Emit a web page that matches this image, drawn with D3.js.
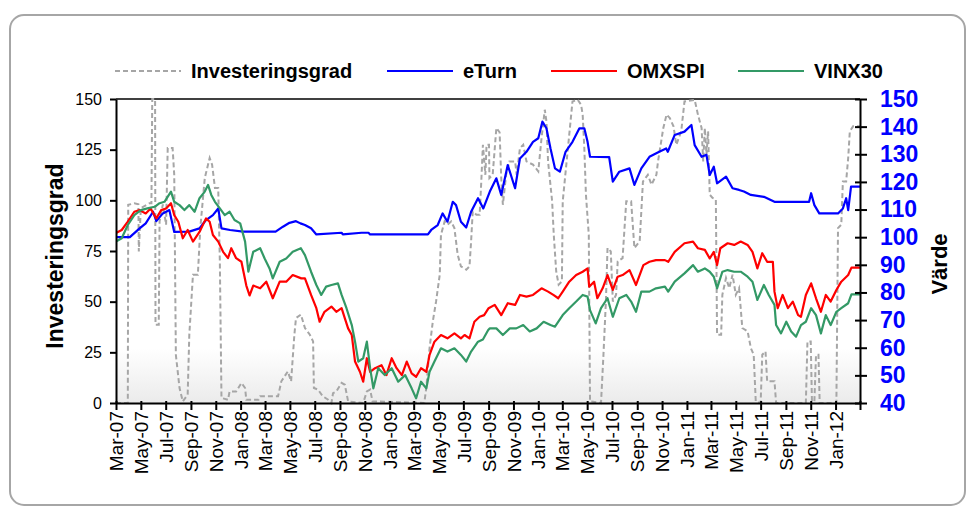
<!DOCTYPE html>
<html>
<head>
<meta charset="utf-8">
<script src="https://cdn.jsdelivr.net/npm/d3@7"></script>
<style>
  body { margin: 0; background: #fff; }
  svg { display: block; font-family: Arial, "Liberation Sans", sans-serif; }
</style>
</head>
<body>
<svg id="chart" width="971" height="518"></svg>
<script>
// x axis: first and last date, and the two-monthly tick labels
const xDomain = ['2007-03-01', '2012-03-01'];
const xTickLabels = ['Mar-07','May-07','Jul-07','Sep-07','Nov-07','Jan-08','Mar-08','May-08','Jul-08','Sep-08',
  'Nov-08','Jan-09','Mar-09','May-09','Jul-09','Sep-09','Nov-09','Jan-10','Mar-10','May-10','Jul-10','Sep-10',
  'Nov-10','Jan-11','Mar-11','May-11','Jul-11','Sep-11','Nov-11','Jan-12'];

const leftTicks = [0, 25, 50, 75, 100, 125, 150];
const rightTicks = [40, 50, 60, 70, 80, 90, 100, 110, 120, 130, 140, 150];

// Investeringsgrad (left axis, %)
const investeringsgrad = [
  ['2007-03-01',0],['2007-03-30',0],['2007-03-31',97.8],['2007-04-15',98.5],['2007-04-25',98],['2007-04-26',74.8],
  ['2007-05-01',96.2],['2007-05-22',98.5],['2007-05-27',98.5],['2007-05-29',150],['2007-06-05',150],['2007-06-06',38.6],
  ['2007-06-14',38.6],['2007-06-16',89.6],['2007-06-24',98],['2007-07-02',88],['2007-07-06',125.8],['2007-07-18',125.8],
  ['2007-07-22',112.6],['2007-07-26',23.8],['2007-08-04',7.4],['2007-08-12',0.8],['2007-08-24',4.1],['2007-08-28',33.7],
  ['2007-09-06',63.3],['2007-09-18',63.3],['2007-09-24',86.3],['2007-10-05',111],['2007-10-17',120.9],['2007-10-23',117.6],
  ['2007-10-30',106.1],['2007-11-07',106.1],['2007-11-11',69.9],['2007-11-15',2.5],['2007-12-01',1.6],['2007-12-05',5.7],
  ['2007-12-21',5.7],['2008-01-03',9.9],['2008-01-12',7.4],['2008-01-15',1.6],['2008-02-14',1.6],['2008-02-18',3.3],
  ['2008-04-02',3.3],['2008-04-10',10.7],['2008-04-26',15.6],['2008-05-04',10.7],['2008-05-12',33.7],['2008-05-16',41.9],
  ['2008-05-28',43.6],['2008-06-07',37],['2008-06-19',33.7],['2008-06-27',30.4],['2008-06-29',7.4],['2008-07-09',6.6],
  ['2008-07-21',3.3],['2008-08-03',1.6],['2008-08-11',0],['2008-08-15',4.9],['2008-08-23',5.7],['2008-09-05',9.9],
  ['2008-09-13',9],['2008-09-21',0.8],['2008-10-28',0],['2008-11-06',5.7],['2008-11-14',6.6],['2008-11-20',0.8],
  ['2009-03-27',0],['2009-04-01',7.4],['2009-04-09',27.1],['2009-04-17',40.3],['2009-04-25',50.1],['2009-05-04',63.3],
  ['2009-05-07',83],['2009-05-16',89.6],['2009-05-23',88],['2009-06-01',89.6],['2009-06-09',86.3],['2009-06-17',73.2],
  ['2009-06-25',67.4],['2009-07-08',65.8],['2009-07-16',67.4],['2009-07-20',79.7],['2009-07-24',94.5],['2009-08-02',92.9],
  ['2009-08-10',92.9],['2009-08-14',109.3],['2009-08-18',127.4],['2009-08-24',112.6],['2009-08-27',127.4],['2009-09-02',127.4],
  ['2009-09-03',111],['2009-09-11',112.6],['2009-09-20',135.7],['2009-09-28',133.6],['2009-10-02',111],['2009-10-06',97.8],
  ['2009-10-14',112.6],['2009-10-22',119.2],['2009-11-05',119.2],['2009-11-09',112.6],['2009-11-17',125.8],['2009-11-25',127.4],
  ['2009-12-03',119.2],['2009-12-19',117.6],['2010-01-01',114.3],['2010-01-09',130.8],['2010-01-17',144.7],['2010-01-21',138.9],
  ['2010-01-25',119.2],['2010-02-04',99.5],['2010-02-08',83],['2010-02-14',64.9],['2010-02-20',58.4],['2010-02-28',60],
  ['2010-03-02',99.5],['2010-03-10',115.9],['2010-03-18',132.4],['2010-03-26',148.8],['2010-04-08',149.6],['2010-04-16',147.2],
  ['2010-04-20',142.3],['2010-04-24',125.8],['2010-04-28',102.8],['2010-05-05',83],['2010-05-08',0.8],['2010-06-04',0],
  ['2010-06-10',23.8],['2010-06-16',50.1],['2010-06-20',76.5],['2010-06-28',74.8],['2010-07-03',50.1],['2010-07-11',53.4],
  ['2010-07-15',69.9],['2010-07-27',71.5],['2010-08-05',99.5],['2010-08-17',99.5],['2010-08-25',76.5],['2010-09-07',79.8],
  ['2010-09-15',109.3],['2010-09-27',112.6],['2010-10-06',107.7],['2010-10-18',112.6],['2010-10-22',119.2],['2010-11-04',135.7],
  ['2010-11-12',142.3],['2010-11-20',140.6],['2010-11-29',136.5],['2010-12-06',127.4],['2010-12-18',134.1],['2010-12-26',148.8],
  ['2011-01-20',149.6],['2011-01-28',142.3],['2011-02-06',135.7],['2011-02-10',119.2],['2011-02-14',135.7],['2011-02-18',122.5],
  ['2011-02-22',134.1],['2011-02-26',102.8],['2011-03-05',101.2],['2011-03-13',100.4],['2011-03-16',33.7],['2011-03-26',33.7],
  ['2011-03-29',53.4],['2011-04-07',61.7],['2011-04-15',56.7],['2011-04-23',63.3],['2011-05-01',53.4],['2011-05-09',56.7],
  ['2011-05-17',37],['2011-05-30',35.4],['2011-06-07',27.1],['2011-06-14',23.8],['2011-06-19',0.8],['2011-07-01',0],
  ['2011-07-05',23.8],['2011-07-13',25.5],['2011-07-17',10.7],['2011-08-04',10.7],['2011-08-08',0],['2011-10-20',0],
  ['2011-10-24',30.4],['2011-11-01',30.4],['2011-11-04',0.8],['2011-11-10',0.8],['2011-11-14',23.8],['2011-11-20',23.8],
  ['2011-11-23',0],['2012-01-03',0],['2012-01-07',86.3],['2012-01-15',88],['2012-01-19',109.3],['2012-01-27',109.3],
  ['2012-02-01',120.9],['2012-02-05',134],['2012-02-13',136.5],['2012-03-01',136.5]
];

// eTurn (right axis)
const eTurn = [
  ['2007-03-01',100],['2007-04-04',100],['2007-04-28',103.2],['2007-05-13',105],['2007-05-31',109.2],['2007-06-08',105.8],
  ['2007-06-24',108.6],['2007-07-10',109.8],['2007-07-22',101.9],['2007-08-28',102],['2007-09-22',103.2],['2007-10-08',106.2],
  ['2007-10-25',108],['2007-11-07',110.4],['2007-11-15',103.2],['2007-12-06',102.6],['2008-01-07',102],['2008-03-27',102],
  ['2008-04-14',103.8],['2008-04-30',105.2],['2008-05-16',105.8],['2008-05-27',105],['2008-06-07',104.4],['2008-06-22',103.2],
  ['2008-07-05',101],['2008-09-05',101.6],['2008-09-08',101],['2008-10-24',101.6],['2008-11-10',101.6],['2008-11-14',101],
  ['2009-04-05',101],['2009-04-13',102.6],['2009-04-29',104.4],['2009-05-11',108.6],['2009-05-23',105.6],['2009-06-05',112.8],
  ['2009-06-13',111.6],['2009-06-25',105.6],['2009-07-08',103.5],['2009-07-20',109.2],['2009-08-06',114.1],['2009-08-19',110.4],
  ['2009-09-04',116.5],['2009-09-20',121.3],['2009-10-02',115.3],['2009-10-18',126.1],['2009-11-05',117.7],['2009-11-17',128.5],
  ['2009-12-03',130.9],['2009-12-19',134.5],['2010-01-01',135.8],['2010-01-11',141.8],['2010-01-21',139.4],['2010-01-31',132.1],
  ['2010-02-11',124.9],['2010-02-23',123.7],['2010-03-09',130.9],['2010-03-26',134.5],['2010-04-12',139.4],['2010-04-24',139.4],
  ['2010-05-02',134.5],['2010-05-08',129.1],['2010-06-24',129],['2010-07-03',120.1],['2010-07-19',123.7],['2010-08-13',124.9],
  ['2010-08-25',118.9],['2010-09-11',124.9],['2010-10-01',129.1],['2010-10-25',130.9],['2010-11-11',132.1],['2010-11-15',130.9],
  ['2010-12-02',137],['2010-12-26',138.2],['2011-01-12',140.6],['2011-01-20',133.3],['2011-02-06',129.1],['2011-02-18',129.8],
  ['2011-02-26',122.5],['2011-03-08',125.5],['2011-03-16',119.5],['2011-04-07',121.9],['2011-04-23',117.7],['2011-05-09',117.1],
  ['2011-05-21',116.5],['2011-06-07',115.3],['2011-07-09',114.6],['2011-08-04',112.8],['2011-10-28',112.8],['2011-11-02',115.9],
  ['2011-11-10',111.6],['2011-11-22',108.6],['2012-01-07',108.6],['2012-01-19',110.4],['2012-01-27',114.1],['2012-02-01',109.8],
  ['2012-02-08',118.3],['2012-03-01',118.3]
];

// OMXSPI (right axis)
const omxspi = [
  ['2007-03-01',101.5],['2007-03-15',102.6],['2007-03-30',105.6],['2007-04-15',109.2],['2007-04-28',109.8],['2007-05-13',108.6],
  ['2007-05-25',110.4],['2007-06-08',106.8],['2007-06-20',109.8],['2007-07-02',110.4],['2007-07-14',112.3],['2007-07-22',108],
  ['2007-08-01',105.6],['2007-08-12',99.6],['2007-08-24',102.6],['2007-09-06',98.4],['2007-09-22',101.9],['2007-10-08',106.8],
  ['2007-10-17',105.6],['2007-10-25',100.8],['2007-11-07',98.4],['2007-11-19',94.7],['2007-12-01',92.4],['2007-12-09',96],
  ['2007-12-21',92.4],['2008-01-03',91.1],['2008-01-15',82.5],['2008-01-23',78.9],['2008-02-01',82.5],['2008-02-18',81.5],
  ['2008-03-04',83.9],['2008-03-20',77.9],['2008-04-06',83.9],['2008-04-22',83.9],['2008-05-08',86.3],['2008-05-29',85.1],
  ['2008-06-07',85.1],['2008-06-22',79.1],['2008-07-05',74.3],['2008-07-13',69.4],['2008-07-25',73],['2008-08-11',74.9],
  ['2008-08-23',73],['2008-09-05',74.3],['2008-09-13',70.6],['2008-09-21',67],['2008-09-30',64.6],['2008-10-08',55],
  ['2008-10-20',51.3],['2008-10-28',47.7],['2008-11-06',56.2],['2008-11-14',51.3],['2008-11-26',52.6],['2008-12-12',53.7],
  ['2008-12-24',50.1],['2009-01-06',56.2],['2009-01-18',52.6],['2009-01-31',50.1],['2009-02-12',55],['2009-02-24',50.7],
  ['2009-03-07',49.5],['2009-03-19',52.6],['2009-04-01',51.3],['2009-04-09',57.4],['2009-04-21',62.2],['2009-05-07',64.6],
  ['2009-05-23',63.4],['2009-06-09',65.2],['2009-06-25',63.4],['2009-07-04',64.6],['2009-07-16',63.4],['2009-07-28',69.4],
  ['2009-08-10',71.2],['2009-08-21',71.8],['2009-09-01',74.3],['2009-09-16',75.5],['2009-10-02',71.8],['2009-10-18',76.1],
  ['2009-11-05',75.5],['2009-11-17',79.1],['2009-12-03',78.5],['2009-12-19',79.1],['2010-01-09',81.5],['2010-01-25',80.3],
  ['2010-02-07',79.1],['2010-02-19',77.9],['2010-03-02',80.3],['2010-03-18',83.9],['2010-04-04',86.3],['2010-04-20',87.5],
  ['2010-05-02',88.7],['2010-05-06',82.1],['2010-05-18',83.9],['2010-05-26',77.9],['2010-06-08',81.5],['2010-06-20',86.3],
  ['2010-07-03',80.9],['2010-07-15',85.7],['2010-07-27',86.3],['2010-08-13',88.1],['2010-08-29',82.7],['2010-09-16',89.9],
  ['2010-10-01',91.1],['2010-10-17',91.7],['2010-11-08',91.7],['2010-11-16',91.1],['2010-12-02',94.7],['2010-12-26',97.8],
  ['2011-01-16',98.4],['2011-01-28',96],['2011-02-14',95.4],['2011-02-26',92.3],['2011-03-08',94.7],['2011-03-16',89.9],
  ['2011-03-24',96],['2011-04-11',97.8],['2011-04-27',97.2],['2011-05-13',98.4],['2011-05-30',97.2],['2011-06-11',94.7],
  ['2011-06-23',88.7],['2011-07-05',94.2],['2011-07-17',91.1],['2011-07-31',91.1],['2011-08-04',80.3],['2011-08-12',74.3],
  ['2011-08-24',79.1],['2011-09-06',74.3],['2011-09-18',76.7],['2011-10-01',71.8],['2011-10-08',71.2],['2011-10-20',79.1],
  ['2011-11-02',83.3],['2011-11-14',77.9],['2011-11-26',73],['2011-12-08',79.1],['2011-12-20',76.7],['2012-01-03',80.9],
  ['2012-01-15',83.9],['2012-02-01',86.3],['2012-02-09',89],['2012-03-01',89]
];

// VINX30 (right axis)
const vinx30 = [
  ['2007-03-01',98.4],['2007-03-15',99.6],['2007-03-30',104.4],['2007-04-15',108],['2007-05-01',109.8],['2007-05-17',110.4],
  ['2007-06-04',111],['2007-06-16',112.3],['2007-06-28',112.8],['2007-07-14',116.5],['2007-07-22',112.8],['2007-08-04',111.6],
  ['2007-08-16',109.8],['2007-08-28',111.6],['2007-09-10',109.2],['2007-09-22',114.1],['2007-10-05',116.5],['2007-10-13',118.9],
  ['2007-10-21',115.3],['2007-10-30',112.8],['2007-11-11',110.4],['2007-11-23',108],['2007-12-05',109.2],['2007-12-17',106.2],
  ['2007-12-31',105],['2008-01-12',98.4],['2008-01-20',87.5],['2008-02-01',94.7],['2008-02-18',96],['2008-02-29',92.3],
  ['2008-03-12',88.7],['2008-03-20',85.1],['2008-04-06',91.1],['2008-04-22',92.3],['2008-05-08',94.7],['2008-05-28',96],
  ['2008-06-07',93.5],['2008-06-22',87.5],['2008-07-05',82.7],['2008-07-17',79.1],['2008-07-29',82.1],['2008-08-11',82.7],
  ['2008-08-27',83.3],['2008-09-05',79.1],['2008-09-17',74.3],['2008-09-30',68.2],['2008-10-08',62.2],['2008-10-16',55],
  ['2008-10-28',56.2],['2008-11-06',62.2],['2008-11-14',52.6],['2008-11-22',45.3],['2008-12-04',52.6],['2008-12-20',50.1],
  ['2009-01-06',52.6],['2009-01-22',47.7],['2009-02-08',50.1],['2009-02-24',45.3],['2009-03-07',41.7],['2009-03-19',47.7],
  ['2009-04-01',45.3],['2009-04-09',51.3],['2009-04-21',55],['2009-05-07',59.8],['2009-05-23',58.6],['2009-06-09',59.8],
  ['2009-06-25',57.4],['2009-07-08',55],['2009-07-20',58.6],['2009-08-06',62.2],['2009-08-18',63],['2009-08-31',66.4],
  ['2009-09-04',67],['2009-09-20',67],['2009-10-06',64.6],['2009-10-23',67],['2009-11-08',67],['2009-11-25',68.2],
  ['2009-12-11',65.9],['2009-12-28',67],['2010-01-14',69.4],['2010-01-31',68.2],['2010-02-11',67.6],['2010-03-02',71.8],
  ['2010-03-18',74.3],['2010-04-04',76.7],['2010-04-20',79.1],['2010-05-02',78.5],['2010-05-08',73.6],['2010-05-22',68.8],
  ['2010-06-04',74.3],['2010-06-20',77.9],['2010-07-03',71.2],['2010-07-19',77.9],['2010-08-05',79.1],['2010-08-17',76.7],
  ['2010-08-29',73],['2010-09-11',80.3],['2010-10-01',80.3],['2010-10-17',81.5],['2010-11-08',82.1],['2010-11-16',80.3],
  ['2010-12-02',83.9],['2010-12-26',86.9],['2011-01-16',89.9],['2011-01-28',87.5],['2011-02-14',88.7],['2011-02-26',87.5],
  ['2011-03-08',85.7],['2011-03-16',81.5],['2011-03-29',87.5],['2011-04-11',88.1],['2011-04-27',87.5],['2011-05-13',87.5],
  ['2011-05-30',85.7],['2011-06-11',83.9],['2011-06-23',77.3],['2011-07-09',82.7],['2011-07-21',79.1],['2011-08-04',75.5],
  ['2011-08-08',68.2],['2011-08-20',65.2],['2011-09-02',69.4],['2011-09-14',65.9],['2011-09-26',64],['2011-10-08',68.2],
  ['2011-10-20',69.4],['2011-11-02',74.3],['2011-11-14',71.8],['2011-11-26',65.2],['2011-12-08',71.8],['2011-12-20',68.2],
  ['2012-01-03',73],['2012-01-15',74.3],['2012-02-01',76.1],['2012-02-09',79.3],['2012-03-01',79.3]
];

const seriesNames = ['Investeringsgrad', 'eTurn', 'OMXSPI', 'VINX30'];
const seriesColors = ['#a6a6a6', '#0000ff', '#ff0000', '#339966'];

// plot box
const plot = { left: 116, right: 860, top: 99, bottom: 403 };

const parseDate = d3.timeParse('%Y-%m-%d');
const parseTick = d3.timeParse('%b-%y');

const svg = d3.select('#chart');

const defs = svg.append('defs');
const grad = defs.append('linearGradient')
  .attr('id', 'plotBg').attr('x1', 0).attr('y1', 0).attr('x2', 0).attr('y2', 1);
grad.append('stop').attr('offset', '0%').attr('stop-color', '#ffffff');
grad.append('stop').attr('offset', '82%').attr('stop-color', '#ffffff');
grad.append('stop').attr('offset', '100%').attr('stop-color', '#ebebeb');
defs.append('clipPath').attr('id', 'plotClip')
  .append('rect')
  .attr('x', plot.left).attr('y', plot.top - 2)
  .attr('width', plot.right - plot.left).attr('height', plot.bottom - plot.top + 4);

// outer rounded frame
svg.append('rect')
  .attr('x', 10).attr('y', 15).attr('width', 955).attr('height', 490)
  .attr('rx', 14).attr('ry', 14)
  .attr('fill', '#fff').attr('stroke', '#a6a6a6').attr('stroke-width', 2);

// scales
const x = d3.scaleTime()
  .domain(xDomain.map(parseDate))
  .range([plot.left, plot.right]);
const yLeft = d3.scaleLinear().domain([0, 150]).range([plot.bottom, plot.top]);
const yRight = d3.scaleLinear().domain([40, 150]).range([plot.bottom, plot.top]);

// plot background
svg.append('rect')
  .attr('x', plot.left).attr('y', plot.top)
  .attr('width', plot.right - plot.left).attr('height', plot.bottom - plot.top)
  .attr('fill', 'url(#plotBg)');
svg.append('line')
  .attr('x1', plot.left).attr('x2', plot.right)
  .attr('y1', plot.top).attr('y2', plot.top)
  .attr('stroke', '#404040').attr('stroke-width', 2);

// series
const lineLeft = d3.line().x(d => x(parseDate(d[0]))).y(d => yLeft(d[1]));
const lineRight = d3.line().x(d => x(parseDate(d[0]))).y(d => yRight(d[1]));

const lines = svg.append('g').attr('clip-path', 'url(#plotClip)');
lines.append('path')
  .attr('d', lineLeft(investeringsgrad))
  .attr('fill', 'none').attr('stroke', seriesColors[0])
  .attr('stroke-width', 2).attr('stroke-dasharray', '5,3');
[eTurn, omxspi, vinx30].forEach((s, i) => {
  lines.append('path')
    .attr('d', lineRight(s))
    .attr('fill', 'none').attr('stroke', seriesColors[i + 1])
    .attr('stroke-width', 2.2).attr('stroke-linejoin', 'round');
});

// left axis
const gLeft = svg.append('g')
  .attr('transform', `translate(${plot.left},0)`)
  .call(d3.axisLeft(yLeft).tickValues(leftTicks).tickSize(6).tickPadding(8).tickSizeOuter(0));
gLeft.select('.domain').attr('stroke', '#000').attr('stroke-width', 2);
gLeft.selectAll('.tick line').attr('stroke', '#000').attr('stroke-width', 2);
gLeft.selectAll('.tick text')
  .attr('font-size', 16).attr('font-family', 'Arial, "Liberation Sans", sans-serif').attr('fill', '#000');

// right axis
const gRight = svg.append('g')
  .attr('transform', `translate(${plot.right},0)`)
  .call(d3.axisRight(yRight).tickValues(rightTicks).tickSize(7).tickPadding(13).tickSizeOuter(0));
gRight.select('.domain').attr('stroke', '#000').attr('stroke-width', 2);
gRight.selectAll('.tick line').attr('x1', -5).attr('stroke', '#000').attr('stroke-width', 2);
gRight.selectAll('.tick text')
  .attr('font-size', 23).attr('font-weight', 'bold')
  .attr('font-family', 'Arial, "Liberation Sans", sans-serif').attr('fill', '#0000ff');

// bottom axis
const gBottom = svg.append('g')
  .attr('transform', `translate(0,${plot.bottom})`)
  .call(d3.axisBottom(x)
    .tickValues(xTickLabels.map(parseTick).concat([parseDate(xDomain[1])]))
    .tickFormat(d => d3.timeFormat('%b-%y')(d))
    .tickSize(7).tickSizeOuter(0));
gBottom.select('.domain').attr('stroke', '#000').attr('stroke-width', 2);
gBottom.selectAll('.tick line').attr('y1', -2).attr('stroke', '#000').attr('stroke-width', 2);
gBottom.selectAll('.tick text')
  .attr('font-size', 19).attr('font-family', 'Arial, "Liberation Sans", sans-serif').attr('fill', '#000')
  .attr('text-anchor', 'end')
  .attr('transform', 'rotate(-90)')
  .attr('x', -8).attr('y', 0).attr('dy', '0.35em')
  .text((d, i) => xTickLabels[i] || '');

// axis titles
svg.append('text')
  .attr('transform', 'translate(63,256) rotate(-90)')
  .attr('text-anchor', 'middle')
  .attr('font-size', 23).attr('font-weight', 'bold')
  .text('Investeringsgrad');
svg.append('text')
  .attr('transform', 'translate(947,264) rotate(-90)')
  .attr('text-anchor', 'middle')
  .attr('font-size', 22).attr('font-weight', 'bold')
  .text('Värde');

// legend
const legendX = [115, 387, 551, 738];
const legend = svg.append('g');
seriesNames.forEach((name, i) => {
  legend.append('line')
    .attr('x1', legendX[i]).attr('x2', legendX[i] + 66)
    .attr('y1', 71).attr('y2', 71)
    .attr('stroke', seriesColors[i]).attr('stroke-width', 2)
    .attr('stroke-dasharray', i === 0 ? '5,3' : null);
  legend.append('text')
    .attr('x', legendX[i] + 76).attr('y', 78)
    .attr('font-size', 20).attr('font-weight', 'bold')
    .text(name);
});
</script>
</body>
</html>
